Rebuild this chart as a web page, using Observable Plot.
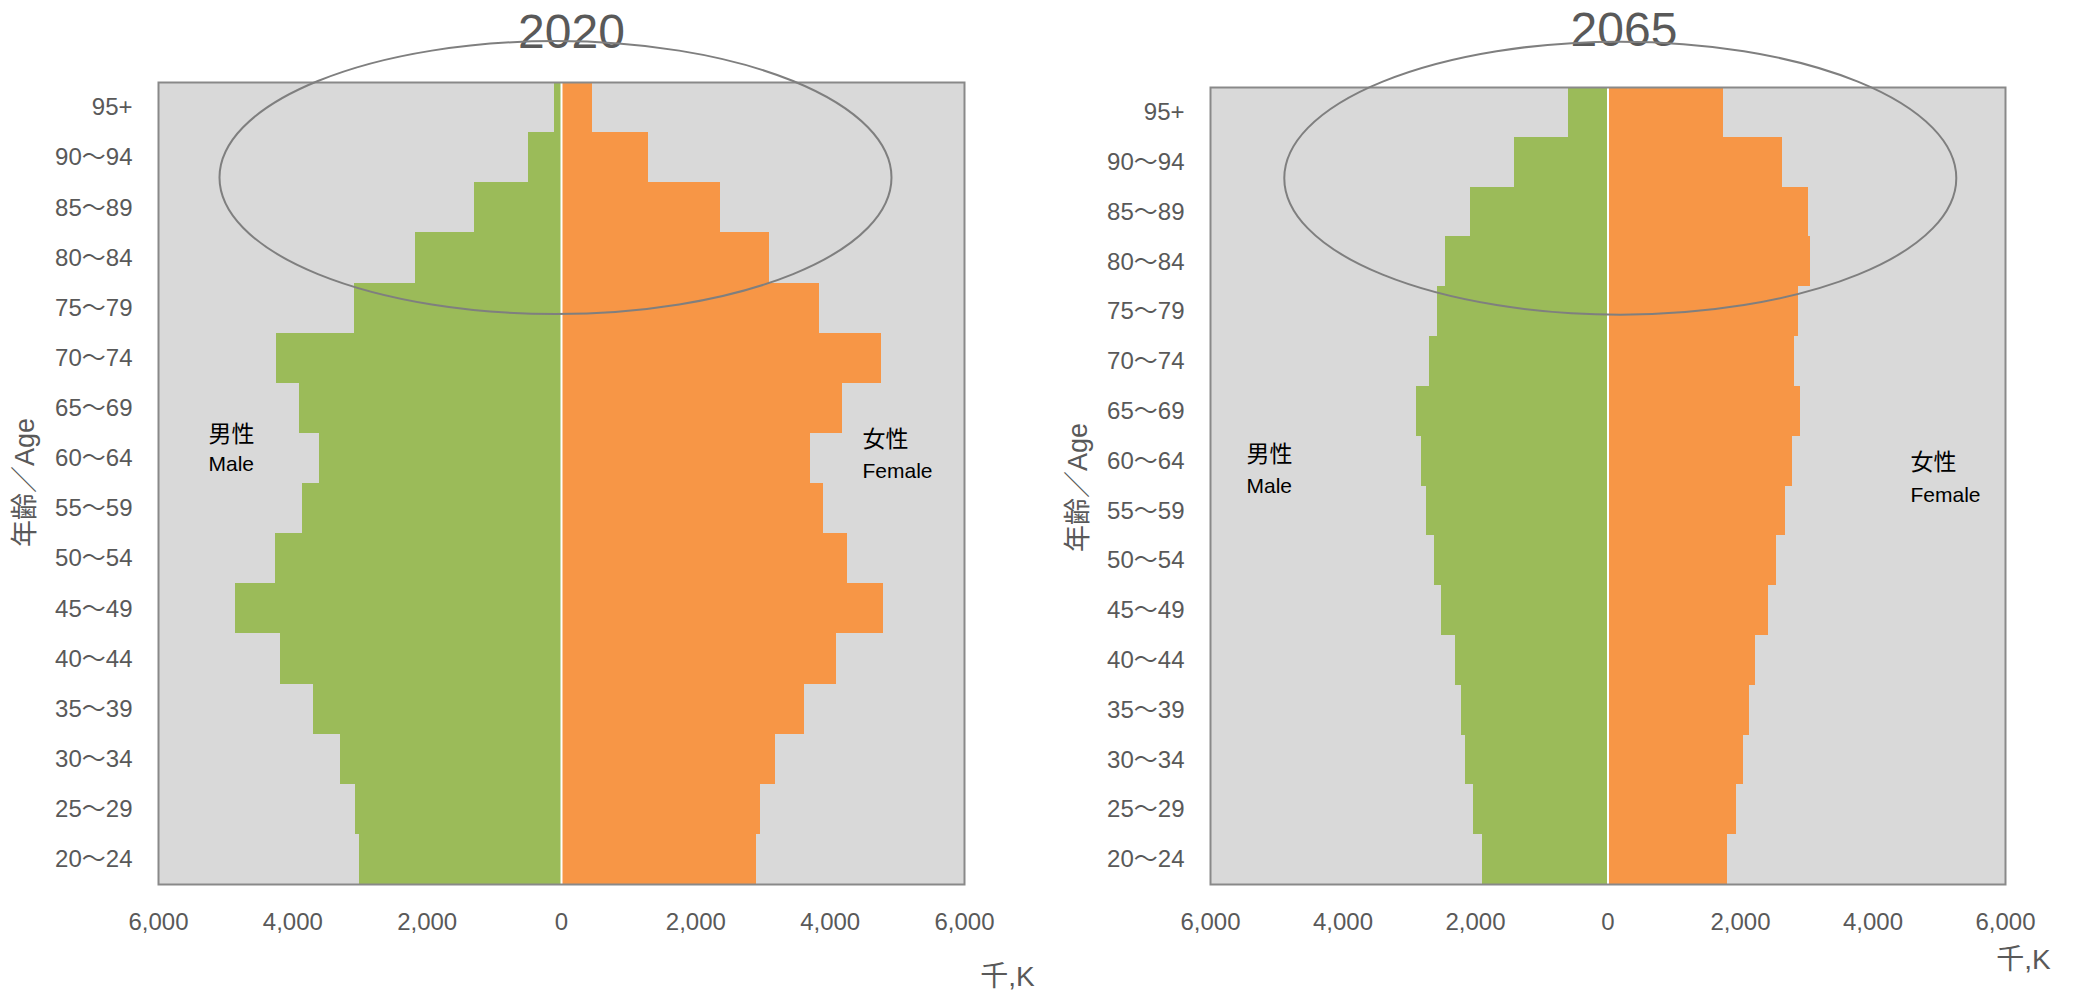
<!DOCTYPE html>
<html>
<head>
<meta charset="utf-8">
<script src="https://cdn.jsdelivr.net/npm/d3@7"></script>
<script src="https://cdn.jsdelivr.net/npm/@observablehq/plot@0.6"></script>
<style>
  html, body { margin: 0; padding: 0; background: #ffffff; }
  #wrap { position: relative; width: 2074px; height: 997px; overflow: hidden; }
  #c1 { position: absolute; left: 0; top: 0; }
  #c2 { position: absolute; left: 1037px; top: 0; }
</style>
</head>
<body>
<div id="wrap"><div id="c1"></div><div id="c2"></div></div>
<script>
// ---- data ----
const ages = ["95+", "90～94", "85～89", "80～84", "75～79", "70～74", "65～69", "60～64",
              "55～59", "50～54", "45～49", "40～44", "35～39", "30～34", "25～29", "20～24"];
const male2020   = [100, 485, 1300, 2180, 3080, 4240, 3900, 3600, 3850, 4260, 4850, 4190, 3690, 3290, 3070, 3010];
const female2020 = [465, 1290, 2370, 3100, 3840, 4770, 4180, 3710, 3900, 4260, 4790, 4100, 3620, 3190, 2960, 2910];
const male2065   = [600, 1410, 2070, 2450, 2570, 2700, 2890, 2810, 2740, 2620, 2510, 2300, 2210, 2150, 2030, 1890];
const female2065 = [1750, 2640, 3020, 3050, 2870, 2810, 2910, 2780, 2680, 2550, 2420, 2220, 2130, 2050, 1940, 1810];
const xTicks = [-6000, -4000, -2000, 0, 2000, 4000, 6000];
const years = ["2020", "2065"];
const maleLabel = ["男性", "Male"];
const femaleLabel = ["女性", "Female"];
const yLabel = "年齢／Age";
const unitLabel = "千,K";

const FONT = '"Liberation Sans", "Noto Sans CJK JP", sans-serif';
const GREEN = "#9bbb59", ORANGE = "#f79646", BG = "#d9d9d9", FRAME = "#898989", TXT = "#595959";

function pyramid(cfg) {
  const rows = ages.map((a, i) => ({age: a, male: cfg.male[i], female: cfg.female[i]}));
  const plot = Plot.plot({
    width: 1037,
    height: 997,
    marginLeft: cfg.ml, marginRight: cfg.mr, marginTop: cfg.mt, marginBottom: 113,
    style: {fontFamily: FONT, fontSize: "24px", color: TXT, background: "transparent", overflow: "visible"},
    x: {domain: [-6000, 6000], ticks: xTicks, tickFormat: d => d3.format(",")(Math.abs(d)),
        tickSize: 0, tickPadding: 28, label: null},
    y: {domain: ages, padding: 0, round: false, tickSize: 0, tickPadding: 26, label: null},
    marks: [
      Plot.frame({fill: BG, stroke: null}),
      Plot.barX(rows, {x: d => -d.male, y: "age", fill: GREEN, shapeRendering: "crispEdges"}),
      Plot.barX(rows, {x: "female", y: "age", fill: ORANGE, shapeRendering: "crispEdges"}),
      Plot.ruleX([0], {stroke: "white", strokeWidth: 2}),
      Plot.frame({stroke: FRAME, strokeWidth: 2}),
      Plot.text([cfg.year], {text: d => d, frameAnchor: "top", dx: cfg.tdx, dy: cfg.tdy,
        fontSize: 48, fill: TXT, lineAnchor: "middle"}),
      Plot.text([maleLabel[0]], {text: d => d, frameAnchor: "top-left", dx: cfg.m1[0], dy: cfg.m1[1],
        textAnchor: "start", lineAnchor: "middle", fontSize: 23, fill: "#000"}),
      Plot.text([maleLabel[1]], {text: d => d, frameAnchor: "top-left", dx: cfg.m2[0], dy: cfg.m2[1],
        textAnchor: "start", lineAnchor: "middle", fontSize: 21, fill: "#000"}),
      Plot.text([femaleLabel[0]], {text: d => d, frameAnchor: "top-left", dx: cfg.f1[0], dy: cfg.f1[1],
        textAnchor: "start", lineAnchor: "middle", fontSize: 23, fill: "#000"}),
      Plot.text([femaleLabel[1]], {text: d => d, frameAnchor: "top-left", dx: cfg.f2[0], dy: cfg.f2[1],
        textAnchor: "start", lineAnchor: "middle", fontSize: 21, fill: "#000"}),
      Plot.text([yLabel], {text: d => d, frameAnchor: "left", dx: cfg.ydx, dy: cfg.ydy, rotate: -90,
        textAnchor: "middle", lineAnchor: "middle", fontSize: 27, fill: TXT}),
      Plot.text([unitLabel], {text: d => d, frameAnchor: "bottom-right", dx: cfg.udx, dy: cfg.udy,
        textAnchor: "middle", lineAnchor: "middle", fontSize: 28, fill: TXT})
    ]
  });
  // highlight ellipse around the oldest age groups
  const xs = plot.scale("x"), ys = plot.scale("y");
  const bw = ys.bandwidth;
  d3.select(plot).append("ellipse")
    .attr("cx", xs.apply(cfg.ex))
    .attr("cy", ys.apply(ages[1]) + cfg.ey * bw)
    .attr("rx", 336)
    .attr("ry", 136.5)
    .attr("fill", "none")
    .attr("stroke", "#7f7f7f")
    .attr("stroke-width", 2);
  return plot;
}

document.getElementById("c1").appendChild(pyramid({
  year: years[0], male: male2020, female: female2020,
  ml: 158, mr: 73, mt: 82,
  tdx: 10, tdy: -50,
  m1: [50, 352], m2: [50, 382], f1: [704, 357], f2: [704, 389],
  ydx: -133, ydy: -1, udx: 43, udy: 93,
  ex: -82, ey: 0.906
}));
document.getElementById("c2").appendChild(pyramid({
  year: years[1], male: male2065, female: female2065,
  ml: 173, mr: 69, mt: 87,
  tdx: 16, tdy: -57,
  m1: [36, 367], m2: [36, 399], f1: [700, 375], f2: [700, 408],
  ydx: -132, ydy: 1.5, udx: 18, udy: 76,
  ex: 193, ey: 0.83
}));
</script>
</body>
</html>
